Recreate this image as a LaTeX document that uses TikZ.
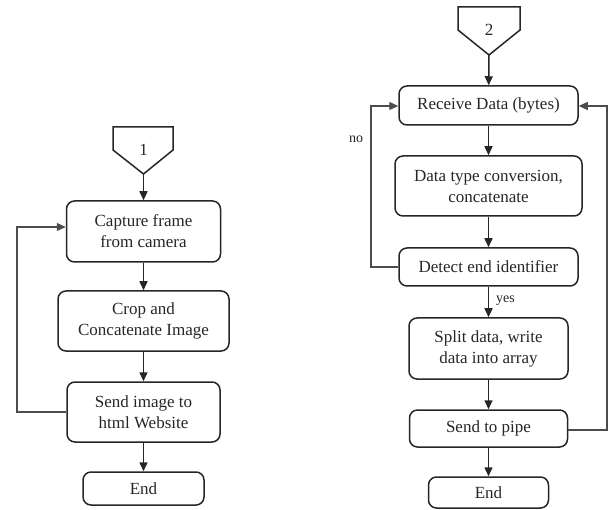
\documentclass[tikz,border=0pt]{standalone}
\usepackage{fontspec}
\setmainfont{Liberation Serif}
\usetikzlibrary{arrows.meta,calc}
\begin{document}
\begin{tikzpicture}[x=1pt,y=-1pt,
  line/.style={draw=black!85,line width=1.5pt},
  box/.style={line,rounded corners=8pt,align=center,inner sep=0pt,
    font=\fontsize{17}{21}\selectfont,text=black!85},
  arr/.style={line,-{Triangle[length=9pt,width=8pt]}},
  loop/.style={draw=black!70,line width=1.2pt,-{Triangle[length=9pt,width=8pt]}},
  lbl/.style={font=\fontsize{14}{16}\selectfont,text=black!85,inner sep=0pt}]
\useasboundingbox (0,0) rectangle (610,510);
% left chart
\draw[line] (113,127) -- (173,127) -- (173,150) -- (143.5,174) -- (113,150) -- cycle;
\node[font=\fontsize{17}{21}\selectfont,text=black!85] (p1) at (143.5,150) {1};
\coordinate (t1) at (143.5,174);
\node[box,minimum width=154pt,minimum height=61pt] (b1) at (143.5,231.5) {Capture frame\\from camera};
\node[box,minimum width=171pt,minimum height=60pt] (b2) at (143.5,321) {Crop and\\Concatenate Image};
\node[box,minimum width=153pt,minimum height=60pt] (b3) at (143.5,412) {Send image to\\html Website};
\node[box,minimum width=121pt,minimum height=33pt] (e1) at (143.5,488.5) {End};
\draw[arr] (t1) -- (b1);
\draw[arr] (b1) -- (b2);
\draw[arr] (b2) -- (b3);
\draw[arr] (b3) -- (e1);
\coordinate (l1) at (17,412);
\coordinate (l2) at (17,227);
\draw[loop] (b3.west) -- (l1) -- (l2) -- (b1.west |- l2);
% right chart
\draw[line] (458,7) -- (520,7) -- (520,30) -- (489,55) -- (458,30) -- cycle;
\node[font=\fontsize{17}{21}\selectfont,text=black!85] (p2) at (489,30) {2};
\coordinate (t2) at (489,55);
\node[box,minimum width=179pt,minimum height=39pt] (r1) at (488.5,105.5) {Receive Data (bytes)};
\node[box,minimum width=187pt,minimum height=60pt] (r2) at (488.5,186) {Data type conversion,\\concatenate};
\node[box,minimum width=179pt,minimum height=38pt] (r3) at (488.5,267) {Detect end identifier};
\node[box,minimum width=159pt,minimum height=61pt] (r4) at (488.5,348.5) {Split data, write\\data into array};
\node[box,minimum width=158pt,minimum height=37pt] (r5) at (488.5,428.5) {Send to pipe};
\node[box,minimum width=120pt,minimum height=31pt] (e2) at (488.5,492.5) {End};
\draw[arr] (t2) -- (r1);
\draw[arr] (r1) -- (r2);
\draw[arr] (r2) -- (r3);
\draw[arr] (r3) -- (r4);
\draw[arr] (r4) -- (r5);
\draw[arr] (r5) -- (e2);
\coordinate (n1) at (371,267);
\coordinate (n2) at (371,106);
\draw[loop] (r3.west) -- (n1) -- (n2) -- (r1.west |- n2);
\coordinate (m1) at (607,430);
\coordinate (m2) at (607,106);
\draw[loop] (r5.east |- m1) -- (m1) -- (m2) -- (r1.east |- m2);
\node[lbl] (no) at (356,139) {no};
\node[lbl,anchor=west] (yes) at (496,301) {yes};
\end{tikzpicture}
\end{document}
